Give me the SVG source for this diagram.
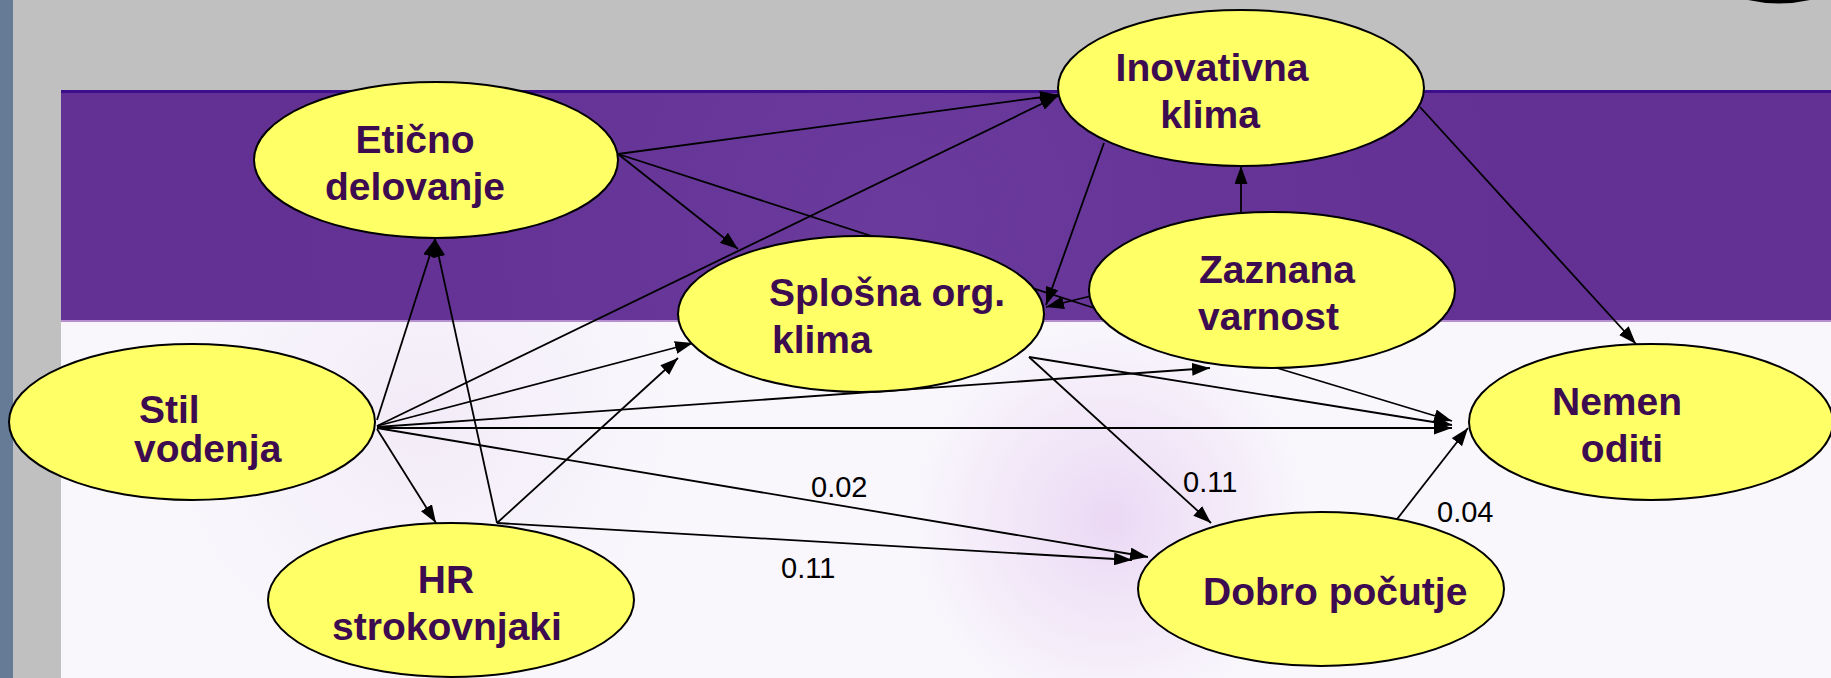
<svg xmlns="http://www.w3.org/2000/svg" width="1831" height="678" viewBox="0 0 1831 678">
<defs>
<marker id="arr" viewBox="0 0 18 13" refX="18" refY="6.5" markerWidth="18" markerHeight="13" markerUnits="userSpaceOnUse" orient="auto">
<path d="M0,0 L18,6.5 L0,13 z" fill="#000"/>
</marker>
<radialGradient id="glow1" cx="1110" cy="520" r="200" gradientUnits="userSpaceOnUse">
<stop offset="0" stop-color="#e2c4ef" stop-opacity="0.6"/>
<stop offset="1" stop-color="#e2c4ef" stop-opacity="0"/>
</radialGradient>
<radialGradient id="glow2" cx="420" cy="420" r="260" gradientUnits="userSpaceOnUse">
<stop offset="0" stop-color="#ece0f4" stop-opacity="0.5"/>
<stop offset="1" stop-color="#ece0f4" stop-opacity="0"/>
</radialGradient>
<radialGradient id="band" cx="900" cy="220" r="600" gradientUnits="userSpaceOnUse">
<stop offset="0" stop-color="#6a3a9c"/>
<stop offset="1" stop-color="#633094"/>
</radialGradient>
<style>
.node ellipse{fill:#ffff66;stroke:#000;stroke-width:2}
.node text{font-family:"Liberation Sans",Arial,sans-serif;font-weight:bold;font-size:39px;fill:#3d0b50}
.edges line{stroke:#000;stroke-width:1.8}
.edges line.a{marker-end:url(#arr)}
.lbl{font-family:"Liberation Sans",Arial,sans-serif;font-size:29px;fill:#000}
</style>
</defs>
<!-- background -->
<rect x="0" y="0" width="1831" height="678" fill="#c0c0c0"/>
<rect x="0" y="0" width="13" height="678" fill="#667b96"/>
<rect x="61" y="322" width="1770" height="356" fill="#f9f7fc"/>
<rect x="61" y="322" width="1770" height="356" fill="url(#glow2)"/>
<rect x="61" y="322" width="1770" height="356" fill="url(#glow1)"/>
<rect x="61" y="90" width="1770" height="232" fill="url(#band)"/>
<rect x="61" y="90" width="1770" height="3" fill="#3d0f8a"/>
<rect x="61" y="320" width="1770" height="2" fill="#b58fd0"/>
<path d="M1748,0 Q1779,7 1810,0 Z" fill="#000"/>

<g id="connectors" class="edges">
<line x1="618" y1="154" x2="1094" y2="308"/>
<line class="a" x1="618" y1="154" x2="1058" y2="95"/>
<line class="a" x1="377" y1="426" x2="1058" y2="96"/>
<line class="a" x1="618" y1="154" x2="738" y2="249"/>
<line class="a" x1="1104" y1="143" x2="1046" y2="305"/>
<line class="a" x1="1091" y1="296" x2="1046" y2="307"/>
<line class="a" x1="1241" y1="213" x2="1241" y2="166"/>
<line class="a" x1="1420" y1="107" x2="1636" y2="344"/>
<line class="a" x1="377" y1="420" x2="435" y2="239"/>
<line class="a" x1="497" y1="523" x2="435" y2="239"/>
<line class="a" x1="377" y1="426" x2="693" y2="343"/>
<line class="a" x1="497" y1="523" x2="678" y2="358"/>
<line class="a" x1="377" y1="427" x2="1210" y2="368"/>
<line class="a" x1="377" y1="428" x2="1452" y2="428"/>
<line class="a" x1="377" y1="428" x2="1148" y2="557"/>
<line class="a" x1="497" y1="523" x2="1132" y2="560"/>
<line class="a" x1="377" y1="429" x2="436" y2="523"/>
<line class="a" x1="1029" y1="357" x2="1211" y2="523"/>
<line class="a" x1="1029" y1="357" x2="1452" y2="425"/>
<line class="a" x1="1277" y1="368" x2="1452" y2="421"/>
<line class="a" x1="1394" y1="523" x2="1468" y2="428"/>
</g>

<g id="eticno" class="node">
<ellipse cx="436" cy="160" rx="182" ry="78"/>
<text x="415" y="153" text-anchor="middle">Etično</text>
<text x="415" y="200" text-anchor="middle">delovanje</text>
</g>
<g id="inovativna" class="node">
<ellipse cx="1241" cy="88" rx="183" ry="78"/>
<text x="1212" y="81" text-anchor="middle">Inovativna</text>
<text x="1210" y="128" text-anchor="middle">klima</text>
</g>
<g id="splosna" class="node">
<ellipse cx="861" cy="314" rx="183" ry="78"/>
<text x="769" y="306">Splošna org.</text>
<text x="772" y="353">klima</text>
</g>
<g id="zaznana" class="node">
<ellipse cx="1272" cy="290" rx="183" ry="78"/>
<text x="1199" y="283">Zaznana</text>
<text x="1198" y="330">varnost</text>
</g>
<g id="stil" class="node">
<ellipse cx="192" cy="422" rx="183" ry="78"/>
<text x="139" y="423">Stil</text>
<text x="134" y="462">vodenja</text>
</g>
<g id="hr" class="node">
<ellipse cx="451" cy="600" rx="183" ry="77"/>
<text x="446" y="593" text-anchor="middle">HR</text>
<text x="447" y="640" text-anchor="middle">strokovnjaki</text>
</g>
<g id="nemen" class="node">
<ellipse cx="1651" cy="422" rx="182" ry="78"/>
<text x="1617" y="415" text-anchor="middle">Nemen</text>
<text x="1622" y="462" text-anchor="middle">oditi</text>
</g>
<g id="dobro" class="node">
<ellipse cx="1321" cy="589" rx="183" ry="77"/>
<text x="1203" y="605">Dobro počutje</text>
</g>

<g id="labels">
<text class="lbl" x="811" y="497">0.02</text>
<text class="lbl" x="781" y="578">0.11</text>
<text class="lbl" x="1183" y="492">0.11</text>
<text class="lbl" x="1437" y="522">0.04</text>
</g>
</svg>
